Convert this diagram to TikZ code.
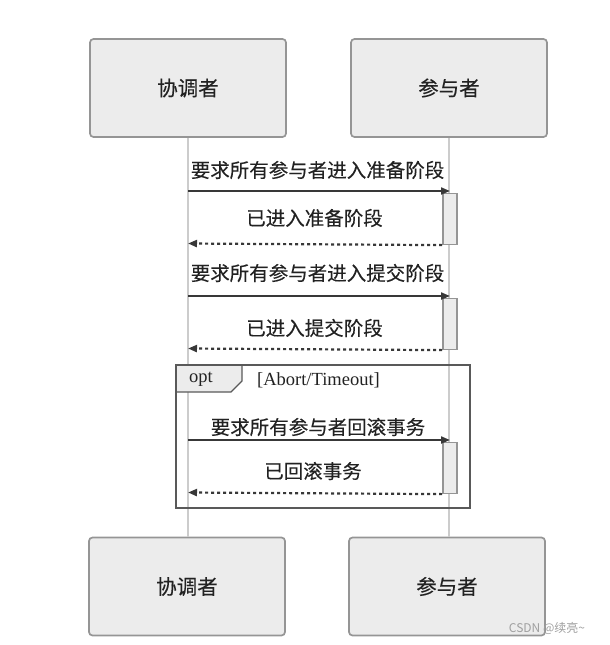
\documentclass[tikz,border=0pt]{standalone}
\usepackage{fontspec}
\setmainfont{Liberation Serif}
\newfontfamily\cjk[FakeBold=0.25]{Noto Sans CJK SC}
\newfontfamily\cjkwm{Noto Sans CJK SC}
\usetikzlibrary{arrows.meta}
\definecolor{boxfill}{HTML}{ECECEC}
\definecolor{boxline}{HTML}{959595}
\definecolor{ink}{HTML}{222222}
\definecolor{arrowc}{HTML}{383838}
\definecolor{lifec}{HTML}{CCCCCC}
\begin{document}
\begin{tikzpicture}[x=1pt,y=-1pt,
  actor/.style={draw=boxline, line width=1.7pt, fill=boxfill, rounded corners=3.5pt,
    minimum width=196pt, minimum height=98pt, inner sep=0pt,
    font=\cjk\fontsize{20.5}{24}\selectfont, text=ink},
  msgtext/.style={font=\cjk\fontsize{19.5}{24}\selectfont, text=ink, inner sep=0pt},
  callarrow/.style={draw=arrowc, line width=2pt, -{Triangle[length=9pt,width=7pt]}},
  replyarrow/.style={draw=arrowc, line width=2.2pt, dash pattern=on 3pt off 3pt,
    -{Triangle[length=9pt,width=7pt]}},
  actbar/.style={draw=boxline, line width=1.6pt, fill=boxfill, minimum width=14pt, inner sep=0pt},
  lifeline/.style={draw=lifec, line width=1.2pt},
  framec/.style={draw=black!65, line width=2pt}
]
\useasboundingbox (0,0) rectangle (610,645);

% actors
\node[actor] (ctop) at (188,88) {协调者};
\node[actor] (ptop) at (449,88) {参与者};
\node[actor] (cbot) at (187,586.5) {协调者};
\node[actor] (pbot) at (447,586.5) {参与者};

% lifelines
\draw[lifeline] (ctop.south) -- (ctop.south |- cbot.north);
\draw[lifeline] (ptop.south) -- (ptop.south |- pbot.north);

% activation bars
\node[actbar, minimum height=51pt, anchor=north] (b1) at (450,192.5) {};
\node[actbar, minimum height=51pt, anchor=north] (b2) at (450,297.5) {};
\node[actbar, minimum height=51pt, anchor=north] (b3) at (450,441.5) {};

% coordinates on lifelines
\coordinate (c1) at (188,191);
\coordinate (p1) at (450,191);
\coordinate (c2) at (188,243.5);
\coordinate (c3) at (188,296);
\coordinate (p3) at (450,296);
\coordinate (c4) at (188,348.5);
\coordinate (c5) at (188,440);
\coordinate (p5) at (450,440);
\coordinate (c6) at (188,492.5);

% message 1
\node[msgtext] (t1) at (317.5,170) {要求所有参与者进入准备阶段};
\draw[callarrow] (c1) -- (p1);
\node[msgtext] (t2) at (314.5,218) {已进入准备阶段};
\draw[replyarrow] (b1.south west) -- (c2);

% message 2
\node[msgtext] (t3) at (317.5,273) {要求所有参与者进入提交阶段};
\draw[callarrow] (c3) -- (p3);
\node[msgtext] (t4) at (314.5,328) {已进入提交阶段};
\draw[replyarrow] (b2.south west) -- (c4);

% opt frame
\coordinate (fnw) at (176,365);
\coordinate (fse) at (470,508);
\draw[framec, fill=boxfill, line width=1.3pt] (fnw) -- (242,365) -- (242,381) -- (231,392) -- (176,392) -- cycle;
\draw[framec] (fnw) rectangle (fse);
\node[font=\fontsize{18.5}{22}\selectfont, text=ink, inner sep=0pt] (optl) at (201,379) {opt};
\node[font=\fontsize{18.5}{22}\selectfont, text=ink, inner sep=0pt] (cond) at (318.5,380.5) {[Abort/Timeout]};

% message 3
\node[msgtext] (t5) at (318,427) {要求所有参与者回滚事务};
\draw[callarrow] (c5) -- (p5);
\node[msgtext] (t6) at (313,471) {已回滚事务};
\draw[replyarrow] (b3.south west) -- (c6);

% watermark
\node[font=\cjkwm\fontsize{12}{14}\selectfont, text=gray!75, inner sep=0pt] (wm) at (547,628) {CSDN @续亮\textasciitilde};
\end{tikzpicture}
\end{document}
